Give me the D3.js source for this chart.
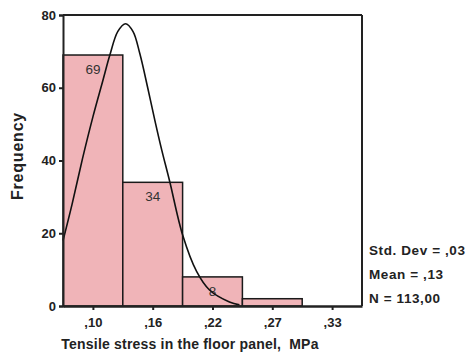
<!DOCTYPE html>
<html><head><meta charset="utf-8">
<script src="https://cdn.jsdelivr.net/npm/d3@7"></script>
<style>body{margin:0;background:#fff}svg{display:block}</style>
</head><body><svg id="c" width="476" height="356"></svg>
<script>
// Histogram bins (bin centers) and counts
const binCenters = [0.10, 0.1575, 0.215, 0.2725, 0.33];
const binWidth = 0.0575;
const counts = [69, 34, 8, 2, 0];
const tickLabels = [",10", ",16", ",22", ",27", ",33"];
const yTicks = [0, 20, 40, 60, 80];
// Fitted normal curve
const curveX = [0.0713, 0.0800, 0.0900, 0.1000, 0.1096, 0.1163, 0.1240, 0.1314, 0.1385, 0.1451, 0.1527, 0.1600, 0.1661, 0.1738, 0.1863, 0.1997, 0.2121, 0.2313, 0.2409];
const curveY = [18, 28, 40.5, 52, 62, 69, 75.5, 77.6, 75.5, 69.4, 60, 50.5, 43, 34.3, 19.5, 9.5, 4.4, 1.1, 0.3];
const stats = ["Std. Dev = ,03", "Mean = ,13", "N = 113,00"];
const xTitle = "Tensile stress in the floor panel,\u00a0\u00a0MPa";
const yTitle = "Frequency";

const svg = d3.select("#c");
const L = 63, R = 362, T = 15, B = 306;
const x = d3.scaleLinear()
  .domain([binCenters[0] - binWidth / 2, binCenters[binCenters.length - 1] + binWidth / 2])
  .range([L, R]);
const y = d3.scaleLinear().domain([0, 80]).range([B, T]);
const font = "'Liberation Sans', Arial, sans-serif";

// bars
svg.append("g").selectAll("rect").data(counts.map((c, i) => ({c, m: binCenters[i]})).filter(d => d.c > 0))
  .join("rect")
  .attr("x", d => x(d.m - binWidth / 2))
  .attr("width", d => x(d.m + binWidth / 2) - x(d.m - binWidth / 2))
  .attr("y", d => y(d.c))
  .attr("height", d => y(0) - y(d.c))
  .attr("fill", "#f0b4b8")
  .attr("stroke", "#1a1a1a")
  .attr("stroke-width", 1.5);

// bar labels
svg.append("g").selectAll("text").data(counts.map((c, i) => ({c, m: binCenters[i]})).filter(d => d.c >= 5))
  .join("text")
  .attr("x", d => x(d.m))
  .attr("y", d => y(d.c) + 19)
  .attr("text-anchor", "middle")
  .attr("font-family", font)
  .attr("font-size", 13.5)
  .attr("fill", "#333")
  .text(d => d.c);

// normal curve
const line = d3.line().x(d => x(d[0])).y(d => y(d[1])).curve(d3.curveCatmullRom);
svg.append("path")
  .datum(curveX.map((v, i) => [v, curveY[i]]))
  .attr("d", line)
  .attr("fill", "none")
  .attr("stroke", "#111")
  .attr("stroke-width", 1.6);

// frame
svg.append("line").attr("x1", L).attr("x2", R).attr("y1", T).attr("y2", T).attr("stroke", "#222").attr("stroke-width", 2.2);
svg.append("line").attr("x1", R).attr("x2", R).attr("y1", T).attr("y2", B).attr("stroke", "#222").attr("stroke-width", 2);

// y axis
const yAxis = svg.append("g").attr("transform", `translate(${L},0)`)
  .call(d3.axisLeft(y).tickValues(yTicks).tickSize(4).tickPadding(3));
yAxis.select(".domain").attr("stroke", "#222").attr("stroke-width", 2);
yAxis.selectAll(".tick line").attr("stroke", "#222").attr("stroke-width", 2);
yAxis.selectAll("text").attr("font-family", font).attr("font-size", 13).attr("font-weight", "bold").attr("fill", "#222");

// x axis
const xAxis = svg.append("g").attr("transform", `translate(0,${B})`)
  .call(d3.axisBottom(x).tickValues(binCenters).tickFormat((d, i) => tickLabels[i]).tickSize(4).tickPadding(8).tickSizeOuter(0));
xAxis.select(".domain").attr("stroke", "#222").attr("stroke-width", 2.5);
xAxis.selectAll(".tick line").attr("stroke", "#222").attr("stroke-width", 2);
xAxis.selectAll("text").attr("font-family", font).attr("font-size", 13).attr("font-weight", "bold").attr("fill", "#222");

// titles
svg.append("text").attr("x", 190).attr("y", 349).attr("text-anchor", "middle")
  .attr("font-family", font).attr("font-size", 14).attr("font-weight", "bold").attr("letter-spacing", 0.2).attr("fill", "#222").text(xTitle);
svg.append("text").attr("transform", `translate(23,156) rotate(-90)`).attr("text-anchor", "middle")
  .attr("font-family", font).attr("font-size", 16).attr("font-weight", "bold").attr("letter-spacing", 0.8).attr("fill", "#222").text(yTitle);

// stats
svg.append("g").selectAll("text").data(stats).join("text")
  .attr("x", 369).attr("y", (d, i) => 255 + i * 24)
  .attr("font-family", font).attr("font-size", 13.5).attr("font-weight", "bold").attr("letter-spacing", 0.6).attr("fill", "#222")
  .text(d => d);
</script></body></html>
